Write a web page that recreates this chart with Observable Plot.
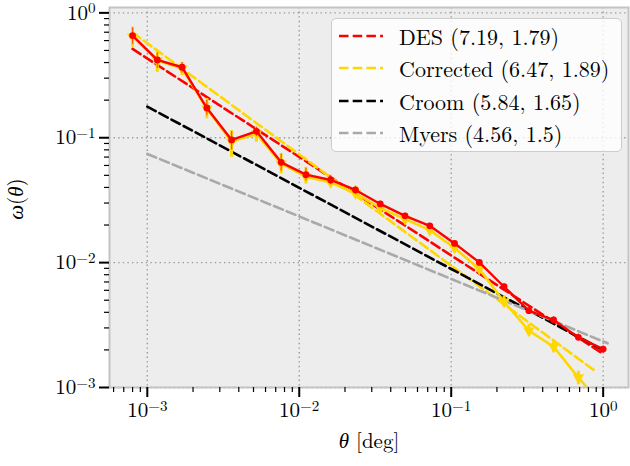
<!DOCTYPE html>
<html>
<head>
<meta charset="utf-8">
<script src="https://cdn.jsdelivr.net/npm/d3@7"></script>
<script src="https://cdn.jsdelivr.net/npm/@observablehq/plot@0.6"></script>
<style>
  html, body { margin: 0; padding: 0; background: #ffffff; }
  #wrap { position: relative; width: 630px; height: 466px; font-family: 'Latin Modern Roman', 'Liberation Serif', serif; }
  #legend { position: absolute; left: 331px; top: 18px; width: 291px; height: 134px;
            background: rgba(255,255,255,0.8); border: 1.5px solid #cccccc; border-radius: 5px; box-sizing: border-box; }
  .lrow { position: absolute; left: 0; height: 32px; width: 100%; }
  .lrow svg { position: absolute; left: 6px; top: 11px; }
  .lrow span { position: absolute; left: 67px; top: 0; line-height: 32px; font-size: 22px; color: #000; white-space: nowrap;
               font-family: 'Latin Modern Roman', 'Liberation Serif', serif; }
</style>
</head>
<body>
<div id="wrap"></div>
<script>
// ---- data ----
const theta = [0.000800, 0.001164, 0.001694, 0.002466, 0.003589, 0.005224, 0.007603, 0.01107, 0.01611, 0.02344,
               0.03412, 0.04966, 0.07228, 0.1052, 0.1531, 0.2228, 0.3243, 0.4721, 0.6871, 1.0];
const wDES   = [0.658, 0.420, 0.367, 0.173, 0.0960, 0.1125, 0.0635, 0.0506, 0.0459, 0.0382,
                0.0295, 0.0237, 0.0197, 0.01425, 0.01004, 0.00641, 0.00412, 0.00347, 0.00252, 0.00203];
const wDESlo = [0.56, 0.36, 0.33, 0.15, 0.080, 0.102, 0.054, 0.045, 0.042, 0.035,
                0.028, 0.0225, 0.0188, 0.0136, 0.0095, 0.0061, 0.0039, 0.0033, 0.0024, 0.0019];
const wDEShi = [0.76, 0.48, 0.40, 0.20, 0.112, 0.122, 0.074, 0.057, 0.050, 0.041,
                0.031, 0.025, 0.0207, 0.0150, 0.0106, 0.0068, 0.0044, 0.0037, 0.0027, 0.00215];
const wCorr   = [0.645, 0.415, 0.358, 0.171, 0.0931, 0.1078, 0.0620, 0.0488, 0.0439, 0.0358,
                 0.0274, 0.0223, 0.0182, 0.0131, 0.00889, 0.00486, 0.00285, 0.00212, 0.00120, 0.00071];
const wCorrLo = [0.530, 0.334, 0.315, 0.142, 0.0697, 0.0919, 0.0513, 0.0426, 0.0401, 0.0331,
                 0.0251, 0.0207, 0.0169, 0.0122, 0.0083, 0.0044, 0.0026, 0.0019, 0.00105, 0.00062];
const wCorrHi = [0.767, 0.483, 0.402, 0.206, 0.114, 0.121, 0.0746, 0.0579, 0.0482, 0.0406,
                 0.0304, 0.0240, 0.0196, 0.0141, 0.0096, 0.0054, 0.0032, 0.0024, 0.00135, 0.0008];

// power-law fits (r0, gamma): endpoints
const fitNames   = ["DES (7.19, 1.79)", "Corrected (6.47, 1.89)", "Croom (5.84, 1.65)", "Myers (4.56, 1.5)"];
const fitTheta0  = [8.0e-4, 8.0e-4, 1.0e-3, 1.0e-3];
const fitTheta1  = [1.0, 0.89, 1.05, 1.07];
const fitW0      = [0.514, 0.697, 0.1775, 0.0742];
const fitW1      = [0.00186, 0.00135, 0.00193, 0.00226];

// ticks
const xMajor = [1e-3, 1e-2, 1e-1, 1];
const xMajorExp = ["\u22123", "\u22122", "\u22121", "0"];
const yMajor = [1e-3, 1e-2, 1e-1, 1];
const yMajorExp = ["\u22123", "\u22122", "\u22121", "0"];
const xLabel = ["\u03b8", " [deg]"];
const yLabel = ["\u03c9", "(", "\u03b8", ")"];

// ---- styles ----
const FONT = "'Latin Modern Roman', 'Liberation Serif', serif";
const fitColors = ["#ff0000", "#ffd700", "#000000", "#a9a9a9"];
const RED = "#ff0000", GOLD = "#ffd700";
const DASH = "9.5,4.2";

// ---- build tables ----
const pts = theta.map((t, i) => ({
  theta: t, des: wDES[i], desLo: wDESlo[i], desHi: wDEShi[i],
  corr: wCorr[i], corrLo: wCorrLo[i], corrHi: wCorrHi[i]
}));
const fits = [];
fitNames.forEach((n, i) => {
  fits.push({name: n, theta: fitTheta0[i], w: fitW0[i]});
  fits.push({name: n, theta: fitTheta1[i], w: fitW1[i]});
});

// minor ticks (axis decoration only)
const xMinor = [], yMinor = [];
for (let e = -4; e <= 0; e++) for (let m = 2; m <= 9; m++) {
  const v = m * Math.pow(10, e);
  if (v > 5.7e-4 && v < 1.46) xMinor.push(v);
  if (v > 1e-3 && v < 1.1) yMinor.push(v);
}
const expOf = (arr, exps) => d => exps[arr.findIndex(v => Math.abs(v - d) / v < 1e-6)];

const chart = Plot.plot({
  width: 630, height: 466,
  marginLeft: 109, marginRight: 2, marginTop: 7, marginBottom: 79,
  x: {type: "log", domain: [5.64e-4, 1.468]},
  y: {type: "log", domain: [1e-3, 1.104]},
  style: {fontFamily: FONT, fontSize: "21px", background: "transparent", overflow: "visible"},
  marks: [
    Plot.frame({fill: "#ededed"}),
    Plot.gridX(xMajor, {stroke: "#9a9a9a", strokeOpacity: 1, strokeWidth: 1.4, strokeDasharray: "1.4,3.2"}),
    Plot.gridY(yMajor, {stroke: "#9a9a9a", strokeOpacity: 1, strokeWidth: 1.4, strokeDasharray: "1.4,3.2"}),
    // fits
    Plot.line(fits, {x: "theta", y: "w", z: "name", stroke: d => fitColors[fitNames.indexOf(d.name)],
                     strokeWidth: 2.6, strokeDasharray: DASH, clip: true}),
    // corrected data
    Plot.line(pts, {x: "theta", y: "corr", stroke: GOLD, strokeWidth: 2.6, clip: true}),
    Plot.ruleX(pts, {x: "theta", y1: "corrLo", y2: "corrHi", stroke: GOLD, strokeWidth: 3, clip: true}),
    Plot.dot(pts, {x: "theta", y: "corr", symbol: "triangle", rotate: 180, r: 3.2, fill: GOLD, stroke: GOLD, clip: true}),
    // DES data
    Plot.ruleX(pts, {x: "theta", y1: "desLo", y2: "desHi", stroke: RED, strokeWidth: 1.2, strokeOpacity: 0.6, clip: true}),
    Plot.line(pts, {x: "theta", y: "des", stroke: RED, strokeWidth: 2.4, clip: true}),
    Plot.dot(pts, {x: "theta", y: "des", r: 3.4, fill: RED, clip: true}),
    Plot.frame({stroke: "#c4c4c4", strokeWidth: 2}),
    // axes
    Plot.axisX({ticks: xMinor, tickSize: 5, strokeWidth: 1.2, tickFormat: () => "", label: null}),
    Plot.axisX({ticks: xMajor, tickSize: 10, strokeWidth: 2, tickPadding: 5, fontSize: 21, fontFamily: FONT,
                tickFormat: expOf(xMajor, xMajorExp), label: null}),
    Plot.axisY({ticks: yMinor, tickSize: 5, strokeWidth: 1.2, tickFormat: () => "", label: null}),
    Plot.axisY({ticks: yMajor, tickSize: 10, strokeWidth: 2, tickPadding: 4, fontSize: 21, fontFamily: FONT,
                tickFormat: expOf(yMajor, yMajorExp), label: null})
  ]
});

const wrap = document.getElementById("wrap");
wrap.appendChild(chart);

const svg = d3.select(chart.tagName.toLowerCase() === "svg" ? chart : chart.querySelector("svg"));
svg.style("font-family", FONT);
// superscript tick labels: 10^{exp}
svg.selectAll('g[aria-label="x-axis tick label"] text, g[aria-label="y-axis tick label"] text').each(function () {
  const t = d3.select(this);
  const exp = t.text();
  if (!exp) return;
  t.text("");
  t.style("font-family", FONT);
  t.append("tspan").text("10");
  t.append("tspan").attr("dy", "-0.42em").attr("font-size", "0.72em").text(exp);
});
// axis labels
const xl = svg.append("text").attr("x", 369).attr("y", 448).attr("text-anchor", "middle")
  .attr("font-size", 21).style("font-family", FONT).attr("fill", "#000");
xl.append("tspan").attr("font-style", "italic").text(xLabel[0]);
xl.append("tspan").attr("xml:space", "preserve").text(xLabel[1]);
const yl = svg.append("text").attr("transform", "translate(23,199) rotate(-90)").attr("text-anchor", "middle")
  .attr("font-size", 21).style("font-family", FONT).attr("fill", "#000");
yl.append("tspan").attr("font-style", "italic").text(yLabel[0]);
yl.append("tspan").text(yLabel[1]);
yl.append("tspan").attr("font-style", "italic").text(yLabel[2]);
yl.append("tspan").text(yLabel[3]);

// legend
const legend = document.createElement("div");
legend.id = "legend";
fitNames.forEach((n, i) => {
  const row = document.createElement("div");
  row.className = "lrow";
  row.style.top = (1 + i * 32.4) + "px";
  row.innerHTML = `<svg width="46" height="10"><line x1="1" y1="5" x2="45" y2="5" stroke="${fitColors[i]}" stroke-width="2.6" stroke-dasharray="${DASH}"/></svg><span></span>`;
  row.querySelector("span").textContent = n;
  legend.appendChild(row);
});
wrap.appendChild(legend);
</script>
</body>
</html>
